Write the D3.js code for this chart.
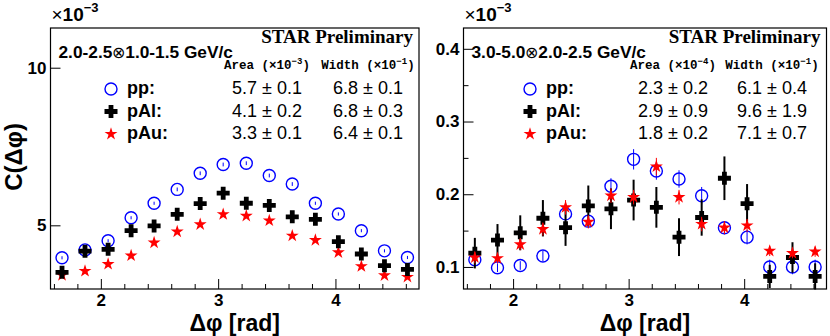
<!DOCTYPE html>
<html>
<head>
<meta charset="utf-8">
<script src="https://cdn.jsdelivr.net/npm/d3@7"></script>
<style>
  body { margin: 0; background: #fff; }
  svg { display: block; }
</style>
</head>
<body>
<svg id="chart" width="830" height="336"></svg>
<script>
// bin centres in delta phi (rad)
const dphi = [1.669, 1.865, 2.062, 2.258, 2.454, 2.651, 2.847, 3.043,
              3.240, 3.436, 3.632, 3.829, 4.025, 4.221, 4.418, 4.614];
const xDomain = [1.5708, 4.7124];
const xMajorTicks = [2, 3, 4];
const xMinorTicks = [1.6, 1.8, 2.2, 2.4, 2.6, 2.8, 3.2, 3.4, 3.6, 3.8, 4.2, 4.4, 4.6];

const species = ["pp:", "pAl:", "pAu:"];

// left panel: 2.0-2.5 x 1.0-1.5 GeV/c  (units of 1e-3)
const ppLow     = [3.97, 4.22, 4.51, 5.24, 5.70, 6.14, 6.65, 6.93, 6.97, 6.58, 6.31, 5.70, 5.36, 4.83, 4.19, 3.98];
const ppLowErr  = [0.05, 0.05, 0.05, 0.05, 0.05, 0.06, 0.06, 0.06, 0.06, 0.06, 0.06, 0.05, 0.05, 0.05, 0.05, 0.05];
const pAlLow    = [3.51, 4.18, 4.24, 4.83, 4.98, 5.35, 5.69, 6.02, 5.70, 5.63, 5.27, 5.19, 4.48, 4.09, 3.72, 3.60];
const pAlLowErr = [0.08, 0.08, 0.08, 0.09, 0.09, 0.09, 0.10, 0.10, 0.10, 0.10, 0.09, 0.09, 0.09, 0.08, 0.08, 0.08];
const pAuLow    = [3.42, 3.55, 3.77, 4.04, 4.45, 4.80, 5.03, 5.35, 5.30, 5.15, 4.67, 4.53, 4.14, 3.70, 3.41, 3.36];
const pAuLowErr = [0.05, 0.05, 0.05, 0.05, 0.05, 0.05, 0.06, 0.06, 0.06, 0.06, 0.05, 0.05, 0.05, 0.05, 0.05, 0.05];
const lowYTicks = [5, 10];
const lowYDomain = [2.98, 11.26];
const lowStats = [["5.7 \u00b1 0.1", "6.8 \u00b1 0.1"], ["4.1 \u00b1 0.2", "6.8 \u00b1 0.3"], ["3.3 \u00b1 0.1", "6.4 \u00b1 0.1"]];

// right panel: 3.0-5.0 x 2.0-2.5 GeV/c  (units of 1e-3)
const ppHigh     = [0.110, 0.099, 0.102, 0.115, 0.173, 0.163, 0.211, 0.248, 0.232, 0.221, 0.198, 0.154, 0.141, 0.100, 0.100, 0.100];
const ppHighErr  = [0.006, 0.006, 0.006, 0.007, 0.010, 0.009, 0.011, 0.014, 0.012, 0.012, 0.012, 0.009, 0.010, 0.010, 0.010, 0.010];
const pAlHigh    = [0.119, 0.137, 0.147, 0.167, 0.154, 0.184, 0.180, 0.192, 0.182, 0.141, 0.168, 0.222, 0.187, 0.087, 0.113, 0.087];
const pAlHighErr = [0.021, 0.022, 0.024, 0.025, 0.025, 0.028, 0.028, 0.028, 0.028, 0.026, 0.025, 0.030, 0.027, 0.016, 0.021, 0.018];
const pAuHigh    = [0.113, 0.112, 0.131, 0.152, 0.182, 0.162, 0.198, 0.196, 0.238, 0.196, 0.159, 0.154, 0.157, 0.122, 0.119, 0.121];
const pAuHighErr = [0.008, 0.007, 0.008, 0.009, 0.010, 0.009, 0.010, 0.010, 0.012, 0.010, 0.010, 0.009, 0.009, 0.007, 0.007, 0.007];
const highYTicks = [0.1, 0.2, 0.3, 0.4];
const highYMinor = [0.15, 0.25, 0.35];
const highYDomain = [0.0697, 0.4286];
const highStats = [["2.3 \u00b1 0.2", "6.1 \u00b1 0.4"], ["2.9 \u00b1 0.9", "9.6 \u00b1 1.9"], ["1.8 \u00b1 0.2", "7.1 \u00b1 0.7"]];

const SANS = "'Liberation Sans', Arial, Helvetica, sans-serif";
const SERIF = "'Liberation Serif', 'Times New Roman', serif";
const MONO = "'Liberation Mono', 'Courier New', monospace";

const svg = d3.select("#chart");

const styles = {
  pp:  { color: "#0000ff", shape: "circle", errW: 1 },
  pAl: { color: "#000000", shape: "cross",  errW: 2 },
  pAu: { color: "#ff0000", shape: "star",   errW: 1 }
};

function marker(g, shape, color) {
  if (shape === "circle") {
    g.append("circle").attr("r", 6).attr("fill", "none")
      .attr("stroke", color).attr("stroke-width", 1.4);
  } else if (shape === "cross") {
    const a = 6.5, b = 2.4;
    g.append("path")
      .attr("d", `M${-b},${-a}H${b}V${-b}H${a}V${b}H${b}V${a}H${-b}V${b}H${-a}V${-b}H${-b}Z`)
      .attr("fill", color);
  } else {
    g.append("path").attr("d", d3.symbol(d3.symbolStar, 52)()).attr("fill", color);
  }
}

function drawPanel(p) {
  const x = d3.scaleLinear().domain(xDomain).range([p.left, p.right]);
  const y = d3.scaleLinear().domain(p.yDomain).range([p.bottom, p.top]);

  // axes (ticks pointing inward like ROOT)
  const gx = svg.append("g").attr("transform", `translate(0,${p.bottom})`);
  gx.call(d3.axisBottom(x).tickValues(xMajorTicks).tickSizeInner(-10).tickSizeOuter(0)
    .tickPadding(5).tickFormat(d3.format("d")));
  gx.append("g").call(d3.axisBottom(x).tickValues(xMinorTicks).tickSizeInner(-5)
    .tickSizeOuter(0).tickFormat(""));

  const gy = svg.append("g").attr("transform", `translate(${p.left},0)`);
  gy.call(d3.axisLeft(y).tickValues(p.yTicks).tickSizeInner(-10).tickSizeOuter(0)
    .tickPadding(4).tickFormat(p.yFormat));
  if (p.yMinor) {
    gy.append("g").call(d3.axisLeft(y).tickValues(p.yMinor).tickSizeInner(-5)
      .tickSizeOuter(0).tickFormat(""));
  }
  svg.selectAll(".domain").remove();
  [gx, gy].forEach(g => {
    g.selectAll("line").attr("stroke", "#000");
    g.selectAll("text").attr("font-family", SANS).attr("font-weight", "bold")
      .attr("font-size", 17).attr("fill", "#000");
  });

  // frame
  svg.append("rect")
    .attr("x", p.left).attr("y", p.top)
    .attr("width", p.right - p.left).attr("height", p.bottom - p.top)
    .attr("fill", "none").attr("stroke", "#000").attr("stroke-width", 1.2);

  // data series
  p.series.forEach(s => {
    const st = styles[s.name];
    const g = svg.append("g");
    g.selectAll("line.err").data(s.values).enter().append("line")
      .attr("x1", (d, i) => x(dphi[i])).attr("x2", (d, i) => x(dphi[i]))
      .attr("y1", (d, i) => y(d - s.errors[i])).attr("y2", (d, i) => y(d + s.errors[i]))
      .attr("stroke", st.color).attr("stroke-width", st.errW);
    s.values.forEach((d, i) => {
      const m = g.append("g").attr("transform", `translate(${x(dphi[i])},${y(d)})`);
      marker(m, st.shape, st.color);
    });
  });

  // exponent
  const ex = svg.append("text").attr("x", p.left + 1).attr("y", 21)
    .attr("font-family", SANS).attr("font-size", 19).attr("fill", "#000");
  ex.append("tspan").text("\u00d7");
  ex.append("tspan").attr("font-weight", "bold").text("10");
  ex.append("tspan").attr("dy", -9).attr("font-size", 13).attr("font-weight", "bold").text("\u22123");

  // STAR Preliminary
  svg.append("text").attr("x", p.right - 6).attr("y", 42.5).attr("text-anchor", "end")
    .attr("font-family", SERIF).attr("font-weight", "bold").attr("font-size", 19)
    .text("STAR Preliminary");

  // pT bin label
  const bl = svg.append("text").attr("x", p.left + 8).attr("y", 57.5)
    .attr("font-family", SANS).attr("font-weight", "bold").attr("font-size", 17.3);
  bl.append("tspan").text(p.binLabel[0]);
  bl.append("tspan").attr("font-weight", "normal").attr("font-size", 16).text("\u2297");
  bl.append("tspan").text(p.binLabel[1]);

  // column headers
  [["Area", p.areaExp, p.colA], ["Width", "\u22121", p.colB]].forEach(([name, exp, cx]) => {
    const t = svg.append("text").attr("x", cx).attr("y", 69).attr("text-anchor", "middle")
      .attr("font-family", MONO).attr("font-weight", "bold").attr("font-size", 12.5);
    t.append("tspan").text(name + " (\u00d710");
    t.append("tspan").attr("dy", -5).attr("font-size", 9).text(exp);
    t.append("tspan").attr("dy", 5).text(")");
  });

  // legend
  species.forEach((sp, k) => {
    const yb = 94 + k * 22.5;
    const st = styles[p.series.find(s => s.label === sp).name];
    const m = svg.append("g").attr("transform", `translate(${p.legX},${yb - 5})`);
    marker(m, st.shape, st.color);
    svg.append("text").attr("x", p.legX + 16).attr("y", yb)
      .attr("font-family", SANS).attr("font-weight", "bold").attr("font-size", 18).text(sp);
    [p.colA, p.colB].forEach((cx, c) => {
      svg.append("text").attr("x", cx).attr("y", yb).attr("text-anchor", "middle")
        .attr("font-family", SANS).attr("font-size", 18).text(p.stats[k][c]);
    });
  });

  // x title
  svg.append("text").attr("x", (p.left + p.right) / 2).attr("y", 331)
    .attr("text-anchor", "middle").attr("font-family", SANS).attr("font-weight", "bold")
    .attr("font-size", 23).text("\u0394\u03c6 [rad]");
}

drawPanel({
  left: 50.5, right: 419, top: 28, bottom: 289,
  yDomain: lowYDomain, yTicks: lowYTicks, yMinor: null, yFormat: d3.format("d"),
  binLabel: ["2.0-2.5", "1.0-1.5 GeV/c"], areaExp: "\u22123", stats: lowStats,
  colA: 267, colB: 368, legX: 111,
  series: [
    { name: "pp",  label: "pp:",  values: ppLow,  errors: ppLowErr },
    { name: "pAu", label: "pAu:", values: pAuLow, errors: pAuLowErr },
    { name: "pAl", label: "pAl:", values: pAlLow, errors: pAlLowErr }
  ]
});

drawPanel({
  left: 463.5, right: 826.5, top: 28, bottom: 289,
  yDomain: highYDomain, yTicks: highYTicks, yMinor: highYMinor, yFormat: d3.format(".1f"),
  binLabel: ["3.0-5.0", "2.0-2.5 GeV/c"], areaExp: "\u22124", stats: highStats,
  colA: 673, colB: 772, legX: 530,
  series: [
    { name: "pp",  label: "pp:",  values: ppHigh,  errors: ppHighErr },
    { name: "pAl", label: "pAl:", values: pAlHigh, errors: pAlHighErr },
    { name: "pAu", label: "pAu:", values: pAuHigh, errors: pAuHighErr }
  ]
});

// y title (left panel only)
svg.append("text").attr("transform", "translate(22,157) rotate(-90)")
  .attr("text-anchor", "middle").attr("font-family", SANS).attr("font-weight", "bold")
  .attr("font-size", 24).text("C(\u0394\u03c6)");
</script>
</body>
</html>
